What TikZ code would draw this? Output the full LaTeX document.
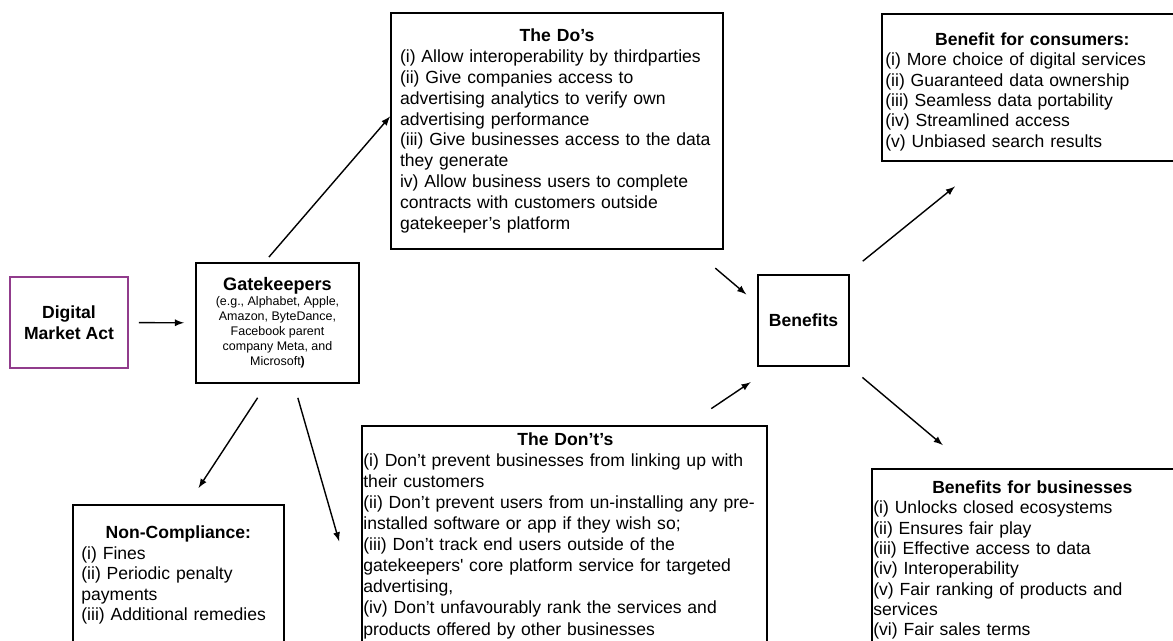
\documentclass[tikz,border=0pt]{standalone}
\usepackage{fontspec}
\setmainfont{Liberation Sans}
\usepackage{tikz}
\definecolor{dmapurple}{RGB}{145,60,140}
\newcommand{\BoxTitle}[1]{\centerline{\bfseries #1}}

\begin{document}
\begin{tikzpicture}[>=latex, x=0.02cm, y=-0.02cm,
  box/.style={draw, line width=1pt, inner sep=0pt},
  txt/.style={align=left, inner sep=0pt, anchor=north west},
  arr/.style={->, line width=0.8pt}]

\useasboundingbox (0,0) rectangle (1173,641);
\clip (0,0) rectangle (1173,641);

% left part
\node[box, draw=dmapurple, line width=0.9pt, minimum width=2.36cm, minimum height=1.82cm,
  align=center, font=\fontsize{10}{11.8}\selectfont\bfseries] (dma) at (69,322.5) {Digital\\Market Act};
\node[box, minimum width=3.26cm, minimum height=2.4cm, align=center,
  font=\fontsize{7.1}{8.5}\selectfont] (gk) at (277.5,323)
  {{\fontsize{10.3}{12}\selectfont\bfseries Gatekeepers}\\(e.g., Alphabet, Apple,\\Amazon, ByteDance,\\Facebook parent\\company Meta, and\\Microsoft\textbf{)}};

% the do's and don'ts
\node[box, minimum width=6.64cm, minimum height=4.72cm, text width=6.28cm, align=left,
  font=\fontsize{10}{11.9}\selectfont] (dos) at (557,131)
  {\BoxTitle{The Do’s}\\
  (i) Allow interoperability by thirdparties\\
  (ii) Give companies access to\\
  advertising analytics to verify own\\
  advertising performance\\
  (iii) Give businesses access to the data\\
  they generate\\
  iv) Allow business users to complete\\
  contracts with customers outside\\
  gatekeeper’s platform};

\node[box, anchor=north west, minimum width=8.1cm, minimum height=4.7cm] (donts) at (361,425) {};
\node[txt, text width=8.08cm, font=\fontsize{10}{12}\selectfont] (dontsText) at (363,432.2)
  {\BoxTitle{The Don’t’s}\\
  (i) Don’t prevent businesses from linking up with\\
  their customers\\
  (ii) Don’t prevent users from un-installing any pre-\\
  installed software or app if they wish so;\\
  (iii) Don’t track end users outside of the\\
  gatekeepers\textquotesingle\ core platform service for targeted\\
  advertising,\\
  (iv) Don’t unfavourably rank the services and\\
  products offered by other businesses};

\node[box, anchor=north west, minimum width=4.22cm, minimum height=3.12cm] (nc) at (72,504) {};
\node[txt, text width=3.88cm, font=\fontsize{10}{11.7}\selectfont] (ncText) at (81,525.5)
  {\BoxTitle{Non-Compliance:}\\
  (i) Fines\\
  (ii) Periodic penalty\\
  payments\\
  (iii) Additional remedies};

% benefits
\node[box, minimum width=1.82cm, minimum height=1.82cm,
  font=\fontsize{10}{11.8}\selectfont\bfseries] (ben) at (803.5,320.5) {Benefits};

\node[box, anchor=north west, minimum width=6.08cm, minimum height=2.94cm] (cons) at (881,13) {};
\node[txt, text width=5.88cm, font=\fontsize{10}{11.6}\selectfont] (consText) at (885,32.2)
  {\BoxTitle{Benefit for consumers:}\\
  (i) More choice of digital services\\
  (ii) Guaranteed data ownership\\
  (iii) Seamless data portability\\
  (iv) Streamlined access\\
  (v) Unbiased search results};

\node[box, anchor=north west, minimum width=6.44cm, minimum height=3.84cm] (bus) at (871,468) {};
\node[txt, text width=6.36cm, font=\fontsize{10}{11.55}\selectfont] (busText) at (873,480.5)
  {\BoxTitle{Benefits for businesses}\\
  (i) Unlocks closed ecosystems\\
  (ii) Ensures fair play\\
  (iii) Effective access to data\\
  (iv) Interoperability\\
  (v) Fair ranking of products and\\
  services\\
  (vi) Fair sales terms};

% arrows
\draw[arr, shorten <=5.7pt, shorten >=6.3pt] (dma) -- (gk);
\draw[arr, shorten <=3.8pt] (gk.102.1) -- (dos.175.6);
\draw[arr, shorten <=9.5pt, shorten >=10.9pt] (gk.-100.7) -- (nc.83.4);
\draw[arr, shorten <=8.3pt, shorten >=45pt] (gk.-75.6) -- (donts.200.4);
\draw[arr, shorten <=16.1pt, shorten >=8.1pt] (dos.-41.4) -- (ben.160.1);
\draw[arr, shorten <=16.7pt, shorten >=15.6pt] (donts.44.7) -- (ben.-123.8);
\draw[arr, shorten <=11.7pt, shorten >=22.4pt] (ben.47.6) -- (cons.237.1);
\draw[arr, shorten <=9.3pt, shorten >=20.2pt] (ben.-45) -- (bus.123.7);

\end{tikzpicture}
\end{document}
